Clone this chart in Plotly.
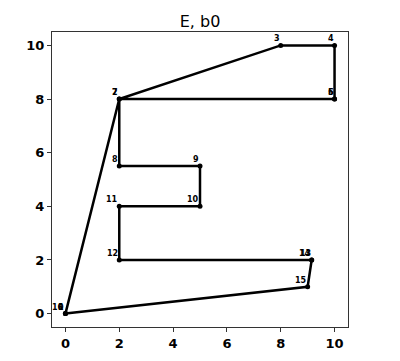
import plotly.graph_objects as go

labels = [str(i) for i in range(17)]
xs = [0, 0, 2, 8, 10, 10, 10, 2, 2, 5, 5, 2, 2, 9.15, 9.15, 9, 0]
ys = [0, 0, 8, 10, 10, 8, 8, 8, 5.5, 5.5, 4, 4, 2, 2, 2, 1, 0]
tick_vals = [0, 2, 4, 6, 8, 10]

fig = go.Figure()
fig.add_trace(go.Scatter(
    x=xs, y=ys, mode="lines+markers",
    line=dict(color="black", width=2.5),
    marker=dict(color="black", size=5),
    showlegend=False, cliponaxis=False,
))

for lab, x, y in zip(labels, xs, ys):
    fig.add_annotation(
        x=x, y=y, text=lab, showarrow=False,
        xanchor="right", yanchor="bottom", xshift=1, yshift=0,
        font=dict(family="DejaVu Sans", size=8, color="black", weight="bold"),
    )

axis_common = dict(
    range=[-0.5, 10.5], tickvals=tick_vals, showgrid=False, zeroline=False,
    showline=True, linecolor="#333333", linewidth=1, mirror=True,
    ticks="outside", ticklen=4, tickcolor="#333333", automargin=False,
    tickfont=dict(family="DejaVu Sans", size=13, color="black", weight="bold"),
)
fig.update_xaxes(**axis_common)
fig.update_yaxes(**axis_common)

fig.update_layout(
    width=400, height=361,
    margin=dict(l=52, r=52, t=32, b=34),
    paper_bgcolor="white", plot_bgcolor="white",
    title=dict(text="E, b0", x=0.5, xanchor="center", y=0.94, yanchor="middle",
               font=dict(family="DejaVu Sans", size=16, color="black")),
)
fig.write_html("out.html")
